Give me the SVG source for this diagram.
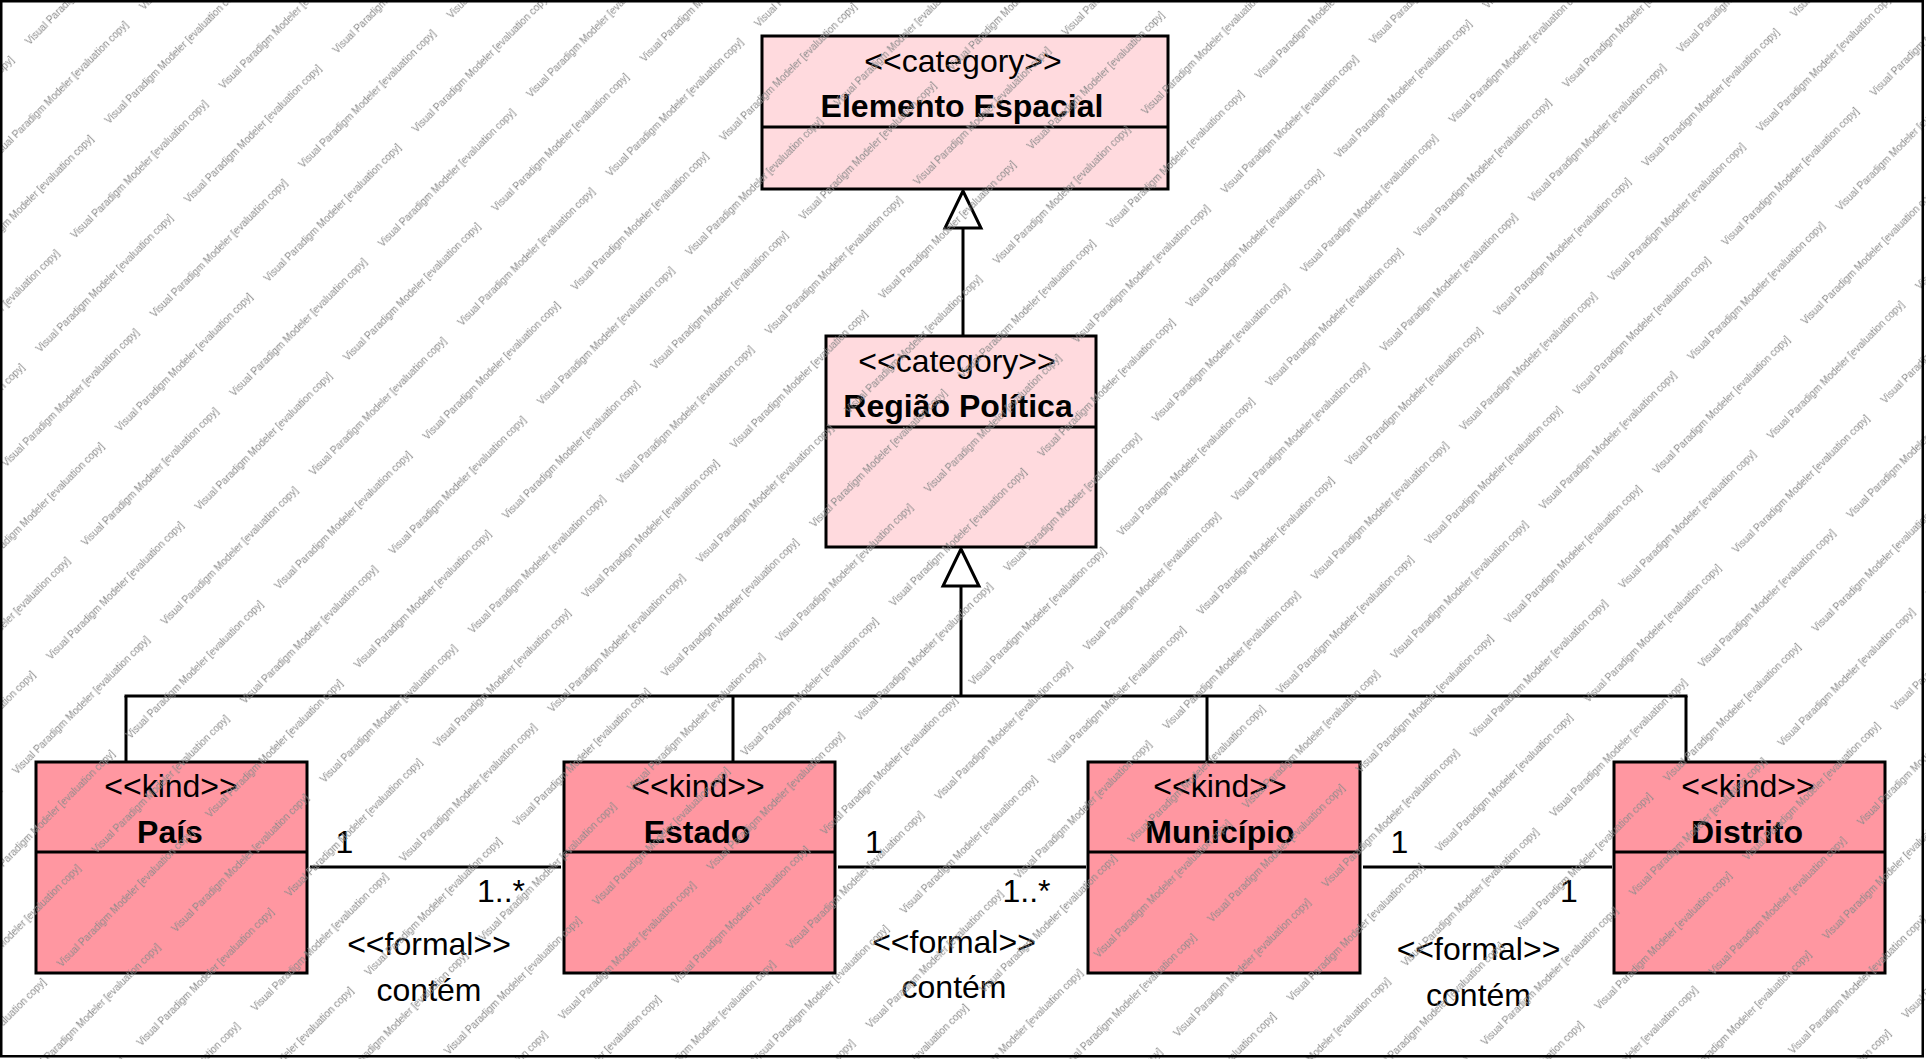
<svg xmlns="http://www.w3.org/2000/svg" width="1926" height="1059" viewBox="0 0 1926 1059">
<defs>
<style>
text{font-family:"Liberation Sans",Arial,sans-serif;font-size:32px;fill:#000}
.c{text-anchor:middle}
.b{font-weight:bold}
.cat{fill:#FFDADE;stroke:#000;stroke-width:3}
.kind{fill:#FF97A1;stroke:#000;stroke-width:3}
.ln{stroke:#000;stroke-width:3;fill:none}
.tri{fill:#fff;stroke:#000;stroke-width:3;stroke-linejoin:miter}
.wm{font-size:10px;fill:#8a8a8a}
</style>
<pattern id="wmPat" patternUnits="userSpaceOnUse" width="210.6" height="112.1" patternTransform="translate(1478.4,297) rotate(-45.2)">
<text class="wm" x="0" y="28">Visual Paradigm Modeler [evaluation copy]</text>
<text class="wm" x="105.3" y="84.05">Visual Paradigm Modeler [evaluation copy]</text>
<text class="wm" x="-105.3" y="84.05">Visual Paradigm Modeler [evaluation copy]</text>
</pattern>
</defs>
<rect x="0" y="0" width="1926" height="1059" fill="#fff"/>

<g id="connectors">
<g id="gen-regiao-elemento">
<line class="ln" x1="963" y1="336" x2="963" y2="228"/>
<polygon class="tri" points="963,191 945,228 981,228"/>
</g>
<g id="gen-kinds-regiao">
<line class="ln" x1="961" y1="586" x2="961" y2="696"/>
<line class="ln" x1="124.5" y1="696" x2="1687.5" y2="696"/>
<line class="ln" x1="126" y1="696" x2="126" y2="762"/>
<line class="ln" x1="733" y1="696" x2="733" y2="762"/>
<line class="ln" x1="1207" y1="696" x2="1207" y2="762"/>
<line class="ln" x1="1686" y1="696" x2="1686" y2="762"/>
<polygon class="tri" points="961,549 943,586 979,586"/>
</g>
<g id="assoc-pais-estado">
<line class="ln" x1="310" y1="867" x2="561" y2="867"/>
<text x="335.5" y="853">1</text>
<text x="477" y="902">1..*</text>
<text class="c" x="429" y="955">&lt;&lt;formal&gt;&gt;</text>
<text class="c" x="429" y="1001">contém</text>
</g>
<g id="assoc-estado-municipio">
<line class="ln" x1="838" y1="867" x2="1086" y2="867"/>
<text x="865" y="853">1</text>
<text x="1002.5" y="902">1..*</text>
<text class="c" x="954" y="953">&lt;&lt;formal&gt;&gt;</text>
<text class="c" x="954" y="998">contém</text>
</g>
<g id="assoc-municipio-distrito">
<line class="ln" x1="1363" y1="867" x2="1612" y2="867"/>
<text x="1390.5" y="853">1</text>
<text x="1560" y="902">1</text>
<text class="c" x="1478.5" y="960">&lt;&lt;formal&gt;&gt;</text>
<text class="c" x="1478.5" y="1006">contém</text>
</g>
</g>

<g id="elemento-espacial">
<rect class="cat" x="762" y="36" width="406" height="153"/>
<line class="ln" x1="762" y1="127" x2="1168" y2="127"/>
<text class="c" x="963" y="72">&lt;&lt;category&gt;&gt;</text>
<text class="c b" x="962" y="117">Elemento Espacial</text>
</g>

<g id="regiao-politica">
<rect class="cat" x="826" y="336" width="270" height="211"/>
<line class="ln" x1="826" y1="427" x2="1096" y2="427"/>
<text class="c" x="957" y="372">&lt;&lt;category&gt;&gt;</text>
<text class="c b" x="958" y="417">Região Política</text>
</g>

<g id="pais">
<rect class="kind" x="36" y="762" width="271" height="211"/>
<line class="ln" x1="36" y1="852" x2="307" y2="852"/>
<text class="c" x="171" y="797">&lt;&lt;kind&gt;&gt;</text>
<text class="c b" x="170" y="843">País</text>
</g>

<g id="estado">
<rect class="kind" x="564" y="762" width="271" height="211"/>
<line class="ln" x1="564" y1="852" x2="835" y2="852"/>
<text class="c" x="698" y="797">&lt;&lt;kind&gt;&gt;</text>
<text class="c b" x="697" y="843">Estado</text>
</g>

<g id="municipio">
<rect class="kind" x="1088" y="762" width="272" height="211"/>
<line class="ln" x1="1088" y1="852" x2="1360" y2="852"/>
<text class="c" x="1220" y="797">&lt;&lt;kind&gt;&gt;</text>
<text class="c b" x="1220" y="843">Município</text>
</g>

<g id="distrito">
<rect class="kind" x="1614" y="762" width="271" height="211"/>
<line class="ln" x1="1614" y1="852" x2="1885" y2="852"/>
<text class="c" x="1748" y="797">&lt;&lt;kind&gt;&gt;</text>
<text class="c b" x="1747" y="843">Distrito</text>
</g>

<rect id="watermark" x="0" y="0" width="1926" height="1059" fill="url(#wmPat)"/>
<rect id="frame" x="1.25" y="1.25" width="1921.5" height="1055" fill="none" stroke="#000" stroke-width="2.5"/>
</svg>
